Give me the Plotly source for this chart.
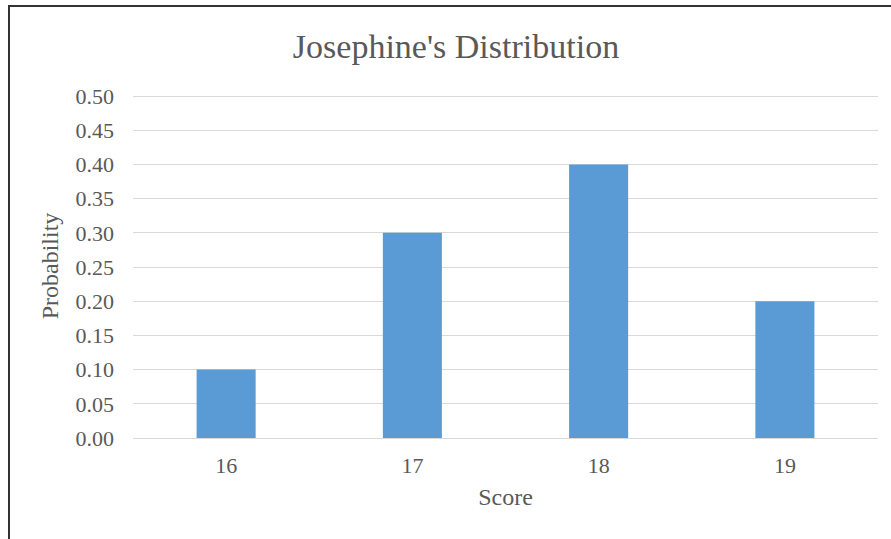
import plotly.graph_objects as go

scores = ["16", "17", "18", "19"]
probabilities = [0.10, 0.30, 0.40, 0.20]
y_ticks = [0.00, 0.05, 0.10, 0.15, 0.20, 0.25, 0.30, 0.35, 0.40, 0.45, 0.50]
y_tick_labels = [f"{v:.2f}" for v in y_ticks]

font_family = "Liberation Serif, Times New Roman, serif"
text_grey = "#595959"
grid_grey = "#d9d9d9"

fig = go.Figure(
    go.Bar(
        x=scores,
        y=probabilities,
        marker=dict(color="#5B9BD5", line=dict(width=0)),
        hoverinfo="x+y",
    )
)

# a little headroom above 0.50 so its gridline is drawn inside the plot area
fig.update_layout(
    width=891,
    height=539,
    margin=dict(l=133, r=13, t=94, b=101),
    paper_bgcolor="white",
    plot_bgcolor="white",
    bargap=0.683,
    showlegend=False,
    font=dict(family=font_family, color=text_grey, size=22),
    title=dict(
        text="Josephine's Distribution",
        x=456 / 891,
        xref="container",
        xanchor="center",
        y=1 - 46 / 539,
        yanchor="middle",
        font=dict(family=font_family, size=34, color=text_grey),
    ),
    xaxis=dict(
        type="category",
        showgrid=False,
        showline=True,
        linecolor=grid_grey,
        linewidth=1,
        ticks="",
        ticklabelstandoff=8,
        tickfont=dict(size=22, color=text_grey),
        title=dict(text="Score", standoff=10, font=dict(size=24, color=text_grey)),
    ),
    yaxis=dict(
        range=[0, 0.503],
        tickvals=y_ticks,
        ticktext=y_tick_labels,
        showgrid=True,
        gridcolor=grid_grey,
        gridwidth=1,
        zeroline=False,
        showline=False,
        ticks="",
        ticklabelstandoff=18,
        tickfont=dict(size=22, color=text_grey),
        title=dict(text="Probability", standoff=10, font=dict(size=24, color=text_grey)),
    ),
    shapes=[
        dict(
            type="rect",
            xref="paper",
            yref="paper",
            x0=(9 - 133) / 745,
            x1=1.05,
            y0=-0.35,
            y1=(438 - 6) / 344,
            line=dict(color="#333333", width=2),
            fillcolor="rgba(0,0,0,0)",
            layer="above",
        )
    ],
)

fig.write_html("out.html")
